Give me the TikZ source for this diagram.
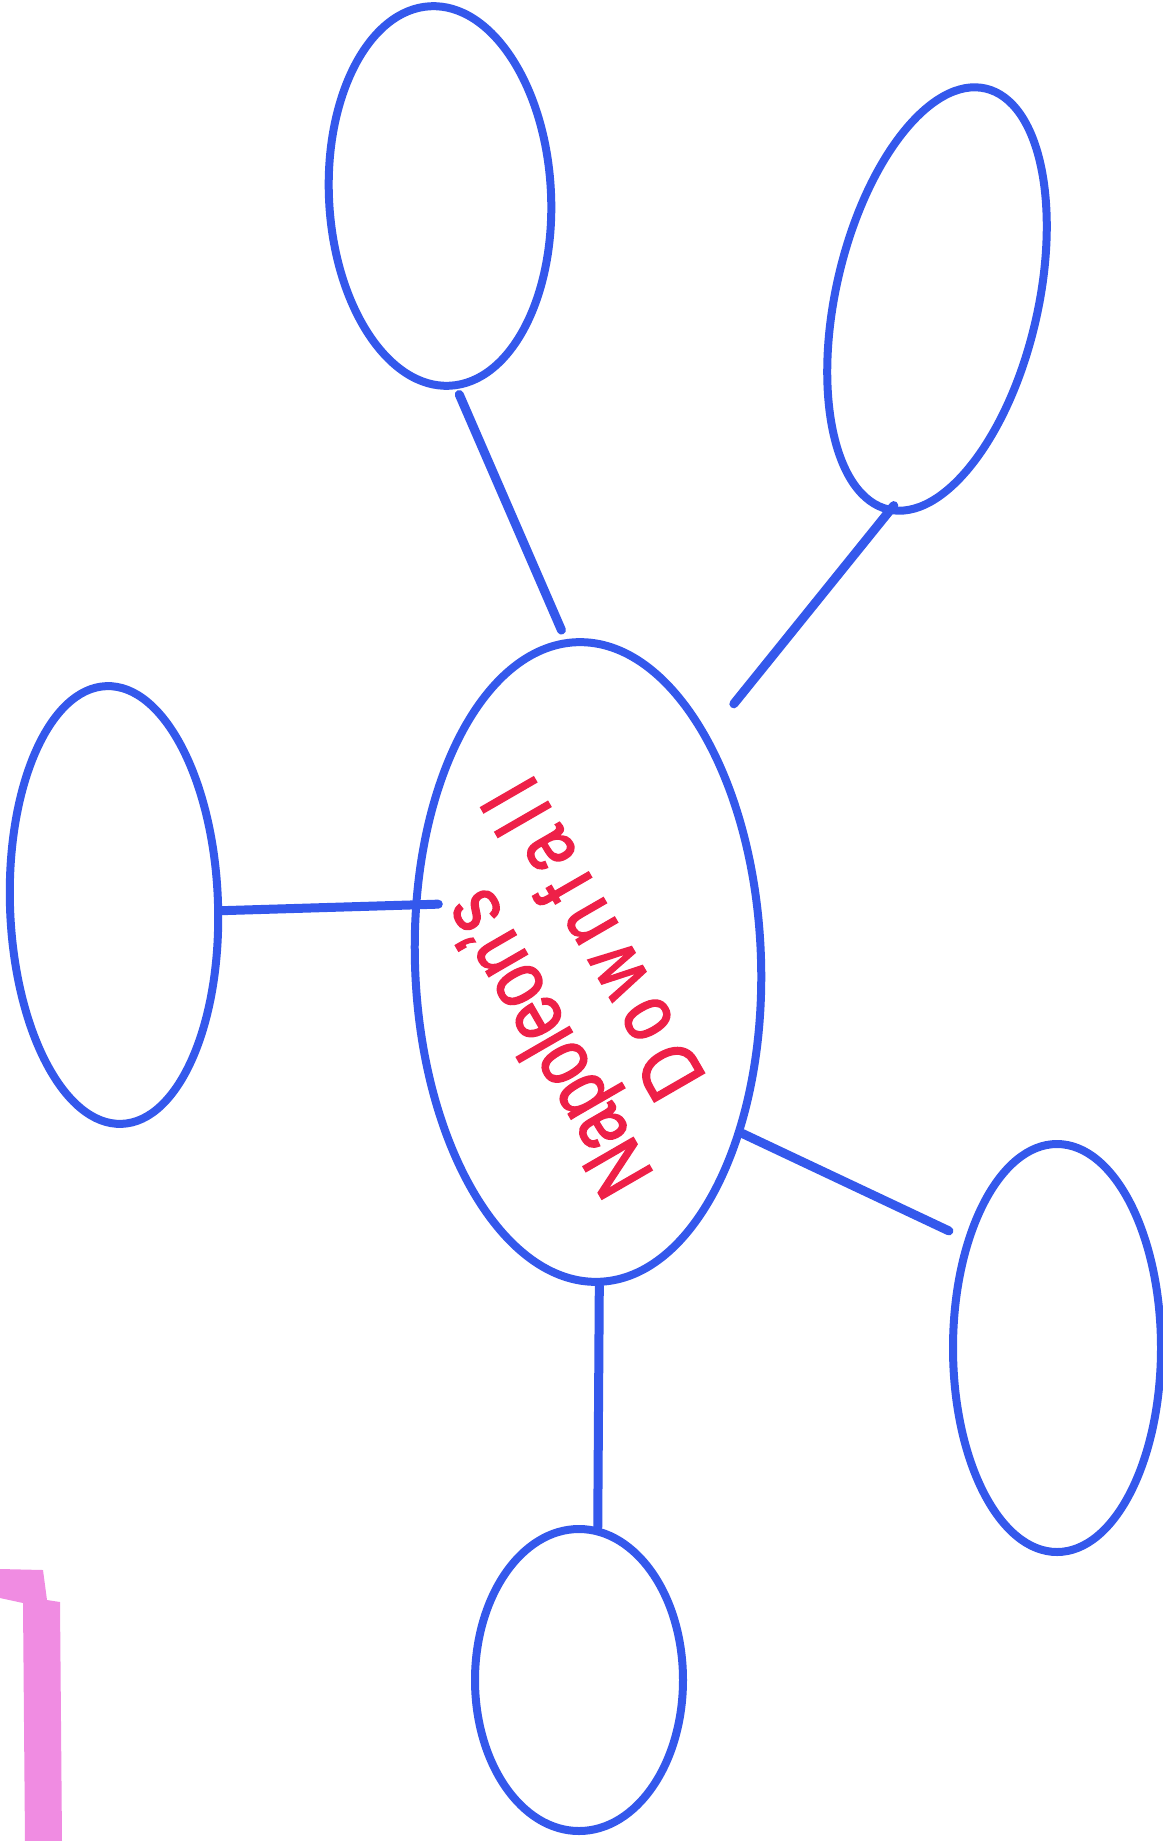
\documentclass[tikz,border=0pt]{standalone}
\usepackage{fontspec}
\setmainfont{Liberation Sans}
\usepackage{xcolor}
\usetikzlibrary{shapes.geometric}
\definecolor{pen}{RGB}{52,88,236}
\definecolor{ink}{RGB}{238,32,72}
\definecolor{marker}{RGB}{240,140,226}

\begin{document}
\begin{tikzpicture}[x=0.5pt, y=-0.5pt,
    bubble/.style={ellipse, draw=pen, line width=4pt, inner sep=0pt},
    link/.style={draw=pen, line width=4.5pt, line cap=round}]
  \fill[white] (0,0) rectangle (1162,1841);
  \useasboundingbox (0,0) rectangle (1162,1841);
  \node[bubble, minimum width=173pt, minimum height=320pt, rotate=2] (main) at (588,962) {};
  \node[text=ink, font=\fontsize{42}{47}\selectfont\addfontfeature{FakeStretch=0.8,FakeBold=2}, align=left, rotate=120] (title) at (567,989)
    {Napoleon's\\\hspace*{29pt}{\addfontfeature{LetterSpace=16}Downfall}};
  \node[bubble, minimum width=111pt, minimum height=190pt, rotate=3] (top) at (440,196) {};
  \node[bubble, minimum width=101pt, minimum height=216pt, rotate=-13] (topright) at (937,299) {};
  \node[bubble, minimum width=104pt, minimum height=219pt, rotate=2] (left) at (114,905) {};
  \node[bubble, minimum width=104pt, minimum height=204pt] (rightlow) at (1057,1348) {};
  \node[bubble, minimum width=104pt, minimum height=151pt] (bottom) at (579,1680) {};
  \draw[link, shorten <=3pt, shorten >=5pt] (top.-88) -- (main.92);
  \draw[link, shorten <=-5pt, shorten >=20pt] (topright.270) -- (main.60);
  \draw[link, shorten >=-13pt] (left.-5) -- (main.160);
  \draw[link, shorten >=9pt] (main.-50) -- (rightlow.130);
  \draw[link] (main.-90) -- (bottom.83);
  \fill[marker] (0,1569) -- (43,1570) -- (47,1600) -- (60,1602) -- (62,1841) -- (25,1841) -- (23,1603) -- (0,1598) -- cycle;
\end{tikzpicture}
\end{document}
